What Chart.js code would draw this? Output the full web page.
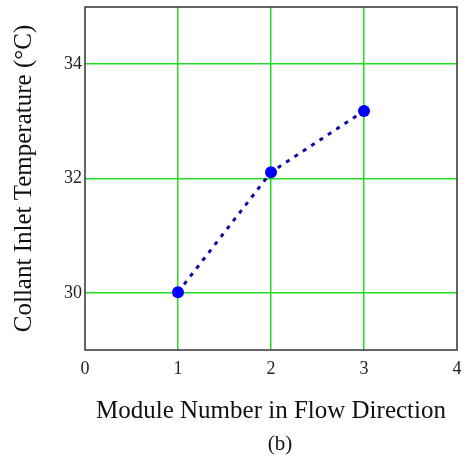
<!DOCTYPE html>
<html>
<head>
<meta charset="utf-8">
<script src="https://cdn.jsdelivr.net/npm/chart.js@4"></script>
<style>
html,body{margin:0;padding:0;background:#fff;}
#wrap{width:467px;height:460px;position:relative;}
</style>
</head>
<body>
<div id="wrap"><canvas id="c" width="467" height="460"></canvas></div>
<script>
const modules = [1, 2, 3];
const inletTemp = [30.01, 32.11, 33.18];
const xTicks = [0, 1, 2, 3, 4];
const yTicks = [30, 32, 34];
const xTitle = 'Module Number in Flow Direction';
const yTitle = 'Collant Inlet Temperature (\u00B0C)';
const caption = '(b)';

const SERIF = '"Liberation Serif", "Times New Roman", serif';

const framePlugin = {
  id: 'frame',
  beforeDatasetsDraw(chart) {
    const {ctx, chartArea: a} = chart;
    ctx.save();
    ctx.strokeStyle = '#333';
    ctx.lineWidth = 1.5;
    ctx.strokeRect(a.left, a.top, a.right - a.left, a.bottom - a.top);
    ctx.restore();
  },
  afterDraw(chart) {
    const {ctx, chartArea: a} = chart;
    ctx.save();
    ctx.fillStyle = '#111';
    ctx.font = '21px ' + SERIF;
    ctx.textAlign = 'center';
    ctx.textBaseline = 'middle';
    ctx.fillText(caption, (a.left + a.right) / 2 + 9, 444);
    ctx.restore();
  }
};

new Chart(document.getElementById('c'), {
  type: 'line',
  data: {
    datasets: [{
      data: modules.map((m, i) => ({x: m, y: inletTemp[i]})),
      borderColor: '#0a0aa0',
      borderWidth: 3,
      borderDash: [4, 6],
      pointRadius: 6,
      pointBackgroundColor: '#0000ff',
      pointBorderColor: '#0000ff',
      pointBorderWidth: 0,
      tension: 0,
      fill: false
    }]
  },
  options: {
    responsive: false,
    animation: false,
    layout: {padding: {top: 7, right: 10, bottom: 30, left: 0}},
    plugins: {legend: {display: false}, tooltip: {enabled: false}},
    scales: {
      x: {
        type: 'linear',
        min: 0, max: 4,
        afterBuildTicks: (ax) => { ax.ticks = xTicks.map(v => ({value: v})); },
        afterFit: (ax) => { ax.height = 80; ax.paddingLeft = 0; ax.paddingRight = 0; },
        grid: {
          color: (c) => (c.tick && (c.tick.value === 0 || c.tick.value === 4)) ? 'rgba(0,0,0,0)' : '#22dd22',
          lineWidth: 1.5,
          drawTicks: false
        },
        border: {display: false},
        ticks: {color: '#222', font: {family: SERIF, size: 18}, padding: 8},
        title: {display: true, text: xTitle, color: '#111', font: {family: SERIF, size: 25}, padding: {top: 16}}
      },
      y: {
        type: 'linear',
        min: 29, max: 35,
        afterBuildTicks: (ax) => { ax.ticks = yTicks.map(v => ({value: v})); },
        afterFit: (ax) => { ax.width = 85; ax.paddingTop = 0; ax.paddingBottom = 0; },
        grid: {color: '#22dd22', lineWidth: 1.5, drawTicks: false},
        border: {display: false},
        ticks: {color: '#222', font: {family: SERIF, size: 18}, padding: 3},
        title: {display: true, text: yTitle, color: '#111', font: {family: SERIF, size: 25}, padding: {top: 9, bottom: 10}}
      }
    }
  },
  plugins: [framePlugin]
});
</script>
</body>
</html>
